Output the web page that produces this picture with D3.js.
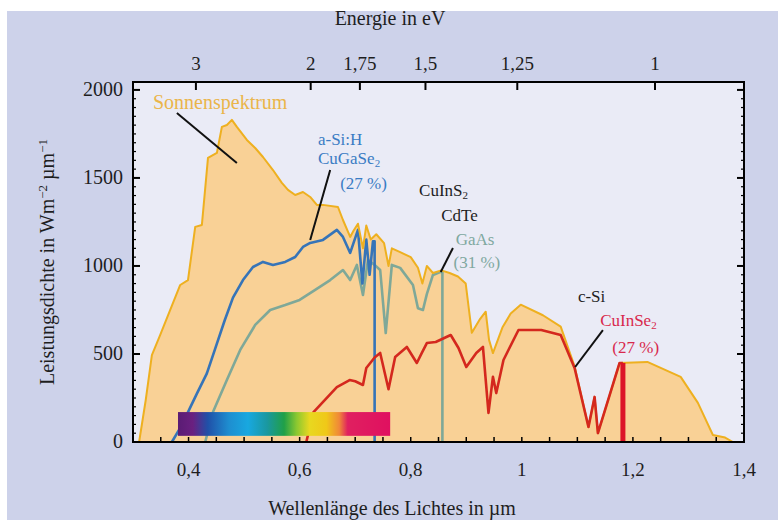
<!DOCTYPE html>
<html><head><meta charset="utf-8">
<script src="https://cdn.jsdelivr.net/npm/d3@7"></script>
<style>
body{margin:0;background:#fff}
svg{display:block}
</style>
</head><body>
<svg id="c" width="778" height="520" font-family="'Liberation Serif','Times New Roman','DejaVu Serif',serif"></svg>
<script>
// ---------- data (wavelength in µm, power density in W m^-2 µm^-1) ----------
const sunSpectrum = [
 [0.311,0],[0.323,240],[0.334,494],[0.349,608],[0.367,750],[0.385,892],[0.399,920],
 [0.412,1222],[0.424,1233],[0.435,1614],[0.451,1642],[0.460,1790],[0.469,1801],[0.478,1830],
 [0.487,1790],[0.505,1716],[0.520,1670],[0.534,1619],[0.552,1545],[0.568,1472],[0.579,1432],
 [0.592,1403],[0.606,1420],[0.619,1392],[0.631,1347],[0.642,1347],[0.669,1335],[0.678,1261],
 [0.691,1165],[0.697,1200],[0.705,1240],[0.714,1100],[0.720,1230],[0.728,1150],[0.738,1180],
 [0.752,1130],[0.760,1000],[0.766,1100],[0.780,1080],[0.800,1050],[0.813,990],[0.821,900],
 [0.829,1000],[0.840,960],[0.855,975],[0.870,960],[0.885,940],[0.899,900],[0.910,620],
 [0.925,700],[0.935,740],[0.941,580],[0.948,505],[0.965,650],[0.980,730],[0.998,780],
 [1.038,720],[1.070,655],[1.095,430],[1.120,85],[1.131,256],[1.137,50],[1.176,449],
 [1.226,455],[1.286,370],[1.317,222],[1.344,40],[1.366,25],[1.380,0]
];
const siCuGaSe = [
 [0.370,0],[0.385,80],[0.399,170],[0.415,275],[0.433,390],[0.448,530],[0.465,690],
 [0.480,820],[0.498,920],[0.516,994],[0.534,1023],[0.552,1006],[0.574,1023],[0.592,1051],
 [0.606,1108],[0.619,1131],[0.642,1148],[0.667,1205],[0.678,1165],[0.691,1074],[0.705,1205],
 [0.713,900],[0.720,1150],[0.726,950],[0.732,1140],[0.735,1140],[0.735,0]
];
const gaAs = [
 [0.430,0],[0.444,170],[0.469,352],[0.493,523],[0.520,665],[0.547,750],[0.574,778],
 [0.600,807],[0.628,864],[0.655,920],[0.678,977],[0.691,920],[0.703,1006],[0.714,835],
 [0.723,1034],[0.735,1006],[0.745,977],[0.755,619],[0.766,1006],[0.781,989],[0.804,892],
 [0.813,760],[0.822,750],[0.829,840],[0.840,949],[0.853,966],[0.857,966],[0.857,0]
];
const cuInSe = [
 [0.612,0],[0.625,170],[0.667,312],[0.690,352],[0.700,345],[0.714,324],[0.720,420],
 [0.735,480],[0.745,506],[0.760,300],[0.772,483],[0.793,540],[0.811,449],[0.820,506],
 [0.829,562],[0.845,568],[0.872,608],[0.886,534],[0.900,426],[0.918,506],[0.930,540],
 [0.940,165],[0.948,370],[0.954,278],[0.967,466],[0.994,636],[1.035,636],[1.070,608],
 [1.095,420],[1.120,85],[1.131,256],[1.137,51],[1.176,449],[1.182,449]
];
const cuInSeGap = [1.182, 449];
const energyTicks = [3, 2, 1.75, 1.5, 1.25, 1];
const wavelengthLabels = [0.4, 0.6, 0.8, 1.0, 1.2, 1.4];
const powerLabels = [0, 500, 1000, 1500, 2000];
const visibleBand = [0.381, 0.763];
const visibleColors = [
 [0.00,"#5a1c74"],[0.07,"#6a2080"],[0.14,"#2050a8"],[0.24,"#1e8ed0"],[0.33,"#18a8e0"],
 [0.42,"#1a98a0"],[0.50,"#20a048"],[0.56,"#8cc830"],[0.62,"#e8d820"],[0.70,"#f0c818"],
 [0.76,"#f08838"],[0.80,"#e02060"],[1.00,"#e01060"]
];

// ---------- setup ----------
const svg = d3.select("#c");
const x = d3.scaleLinear().domain([0.3, 1.4]).range([133, 744]);
const y = d3.scaleLinear().domain([0, 2045]).range([442, 82]);
const hc = 1.2398;
const ink = "#1e1e1e";

svg.append("rect").attr("x",7).attr("y",11).attr("width",771).attr("height",509).attr("fill","#cdd2ea");
svg.append("rect").attr("x",x(0.3)).attr("y",y(2045)).attr("width",x(1.4)-x(0.3)).attr("height",y(0)-y(2045)).attr("fill","#eaebf6");

const line = d3.line().x(d=>x(d[0])).y(d=>y(d[1]));
const area = d3.area().x(d=>x(d[0])).y0(y(0)).y1(d=>y(d[1]));

svg.append("path").datum(sunSpectrum).attr("d",area).attr("fill","#f9d196");

svg.append("path").datum(gaAs).attr("d",line).attr("fill","none").attr("stroke","#7fa898").attr("stroke-width",2.6).attr("stroke-linejoin","round");
svg.append("path").datum(siCuGaSe).attr("d",line).attr("fill","none").attr("stroke","#3674b8").attr("stroke-width",2.6).attr("stroke-linejoin","round");
svg.append("path").datum(sunSpectrum).attr("d",line).attr("fill","none").attr("stroke","#eeb020").attr("stroke-width",2).attr("stroke-linejoin","round");
svg.append("path").datum(cuInSe).attr("d",line).attr("fill","none").attr("stroke","#d4281e").attr("stroke-width",2.6).attr("stroke-linejoin","round");
svg.append("rect").attr("x",x(cuInSeGap[0])-2.5).attr("y",y(cuInSeGap[1])).attr("width",5).attr("height",y(0)-y(cuInSeGap[1])).attr("fill","#dc1428");

// visible spectrum bar
const grad = svg.append("defs").append("linearGradient").attr("id","vis").attr("x1","0").attr("x2","1").attr("y1","0").attr("y2","0");
visibleColors.forEach(s=>grad.append("stop").attr("offset",s[0]).attr("stop-color",s[1]));
svg.append("rect").attr("x",x(visibleBand[0])).attr("y",y(170)).attr("width",x(visibleBand[1])-x(visibleBand[0])).attr("height",y(35)-y(170)).attr("fill","url(#vis)");

// ---------- axes ----------
const fmt = v => d3.format("~g")(v).replace(".", ",");
const bt = d3.range(0.35, 1.40, 0.05);
svg.append("g").selectAll("line").data(bt).join("line")
 .attr("x1",d=>x(d)).attr("x2",d=>x(d)).attr("y1",y(0)).attr("y2",y(0)-5).attr("stroke","#000").attr("stroke-width",1.5);
svg.append("g").selectAll("text").data(wavelengthLabels).join("text")
 .attr("x",d=>x(d)).attr("y",476).attr("text-anchor","middle").attr("font-size",19).attr("fill",ink).text(fmt);
const lt = d3.range(50, 2001, 50);
svg.append("g").selectAll("line").data(lt).join("line")
 .attr("x1",x(0.3)).attr("x2",d=>x(0.3)+(d%500===0?7:3)).attr("y1",d=>y(d)).attr("y2",d=>y(d)).attr("stroke","#000").attr("stroke-width",d=>d%500===0?2:1.2);
svg.append("g").selectAll("line").data(lt).join("line")
 .attr("x1",x(1.4)).attr("x2",d=>x(1.4)-(d%500===0?7:3)).attr("y1",d=>y(d)).attr("y2",d=>y(d)).attr("stroke","#000").attr("stroke-width",d=>d%500===0?2:1.2);
svg.append("g").selectAll("text").data(powerLabels).join("text")
 .attr("x",123).attr("y",d=>y(d)+6).attr("text-anchor","end").attr("font-size",20).attr("fill",ink).text(d=>d);
svg.append("g").selectAll("line").data(energyTicks).join("line")
 .attr("x1",d=>x(hc/d)).attr("x2",d=>x(hc/d)).attr("y1",y(2045)).attr("y2",y(2045)+8).attr("stroke","#000").attr("stroke-width",2);
svg.append("g").selectAll("text").data(energyTicks).join("text")
 .attr("x",d=>x(hc/d)).attr("y",70).attr("text-anchor","middle").attr("font-size",19).attr("fill",ink).text(fmt);
svg.append("rect").attr("x",x(0.3)).attr("y",y(2045)).attr("width",x(1.4)-x(0.3)).attr("height",y(0)-y(2045)).attr("fill","none").attr("stroke","#000").attr("stroke-width",2);

// titles
svg.append("text").attr("x",390).attr("y",25).attr("text-anchor","middle").attr("font-size",20).attr("fill",ink).text("Energie in eV");
svg.append("text").attr("x",392).attr("y",515).attr("text-anchor","middle").attr("font-size",20).attr("fill",ink).text("Wellenlänge des Lichtes in µm");
const yt = svg.append("text").attr("transform","translate(54,262) rotate(-90)").attr("text-anchor","middle").attr("font-size",20).attr("fill",ink);
yt.append("tspan").text("Leistungsdichte in Wm");
yt.append("tspan").attr("baseline-shift","super").attr("font-size",13).text("−2");
yt.append("tspan").text(" µm");
yt.append("tspan").attr("baseline-shift","super").attr("font-size",13).text("−1");

// ---------- annotations ----------
const leader = (a,b)=>svg.append("line").attr("x1",x(a[0])).attr("y1",y(a[1])).attr("x2",x(b[0])).attr("y2",y(b[1])).attr("stroke","#111").attr("stroke-width",2);
leader([0.379,1869],[0.487,1585]);
leader([0.655,1545],[0.619,1148]);
leader([0.876,1102],[0.854,966]);
leader([1.146,636],[1.096,426]);

function label(lam, val, parts, color, size){
  const t = svg.append("text").attr("x",x(lam)).attr("y",y(val)).attr("font-size",size||17).attr("fill",color);
  parts.forEach(p=>{
    if (typeof p === "string") t.append("tspan").text(p);
    else t.append("tspan").attr("dy",3).attr("font-size",11).text(p.sub);
  });
}
label(0.336, 1890, ["Sonnenspektrum"], "#eab54a", 20);
label(0.633, 1685, ["a-Si:H"], "#3a7cc4");
label(0.633, 1577, ["CuGaSe",{sub:"2"}], "#3a7cc4");
label(0.673, 1440, ["(27 %)"], "#3a7cc4");
label(0.815, 1395, ["CuInS",{sub:"2"}], ink);
label(0.855, 1256, ["CdTe"], ink);
label(0.881, 1120, ["GaAs"], "#7fa8a0");
label(0.877, 990, ["(31 %)"], "#7fa8a0");
label(1.101, 795, ["c-Si"], ink);
label(1.141, 657, ["CuInSe",{sub:"2"}], "#d8284c");
label(1.163, 505, ["(27 %)"], "#d8284c");
</script>
</body></html>
